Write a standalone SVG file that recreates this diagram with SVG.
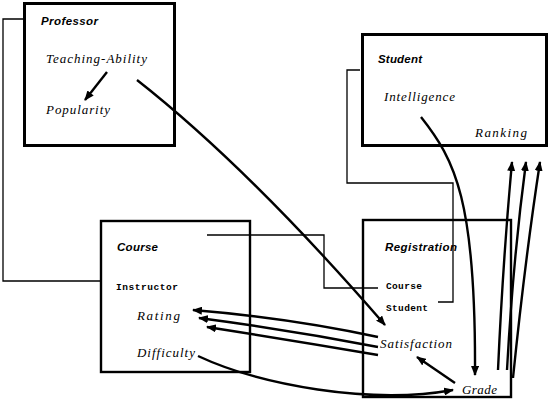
<svg xmlns="http://www.w3.org/2000/svg" width="550" height="408" viewBox="0 0 550 408">
<defs>
<style>
.box{fill:none;stroke:#000;stroke-width:3}
.box2{fill:none;stroke:#000;stroke-width:2.4}
.title{font-family:"Liberation Sans",Arial,sans-serif;font-weight:bold;font-style:italic;font-size:11.5px;fill:#000}
.attr{font-family:"Liberation Serif","Times New Roman",serif;font-style:italic;font-size:13px;fill:#000}
.mono{font-family:"Liberation Mono","Courier New",monospace;font-weight:bold;font-size:9.5px;fill:#000}
.link{fill:none;stroke:#000;stroke-width:1.3}
.arr{fill:none;stroke:#000;stroke-width:2.4;marker-end:url(#ah)}
</style>
<marker id="ah" markerUnits="userSpaceOnUse" markerWidth="10" markerHeight="8" refX="9" refY="4" orient="auto">
<path d="M0,0 L10,4 L0,8 z" fill="#000"/>
</marker>
</defs>
<rect width="550" height="408" fill="#fff"/>
<g id="professor">
<rect class="box" x="24.5" y="3.5" width="150" height="142"/>
<text class="title" x="41" y="25" textLength="57">Professor</text>
<text class="attr" x="46" y="63" textLength="101">Teaching-Ability</text>
<text class="attr" x="46" y="114" textLength="64">Popularity</text>
</g>
<g id="student">
<rect class="box" x="362.5" y="34.5" width="184" height="111"/>
<text class="title" x="378" y="63" textLength="44">Student</text>
<text class="attr" x="384" y="101" textLength="71">Intelligence</text>
<text class="attr" x="475" y="137" textLength="52">Ranking</text>
</g>
<g id="course">
<rect class="box2" x="101" y="221" width="149" height="151"/>
<text class="title" x="117" y="251" textLength="41">Course</text>
<text class="mono" x="116" y="290" textLength="62">Instructor</text>
<text class="attr" x="137" y="320" textLength="43">Rating</text>
<text class="attr" x="137" y="357" textLength="58">Difficulty</text>
</g>
<g id="registration">
<rect class="box2" x="363" y="220" width="148" height="177"/>
<text class="title" x="385" y="251" textLength="72">Registration</text>
<text class="mono" x="386" y="289" textLength="36">Course</text>
<text class="mono" x="386" y="311" textLength="42">Student</text>
<text class="attr" x="380" y="348" textLength="72">Satisfaction</text>
<text class="attr" x="462" y="394" textLength="35">Grade</text>
</g>
<g id="connectors">
<polyline class="link" points="24,19 3,19 3,281 100,281"/>
<polyline class="link" points="207,235 324,235 324,288 378,288"/>
<polyline class="link" points="360,70 347,70 347,183 453,183 453,302 438,302"/>
<path class="arr" d="M107,72 L85,100"/>
<path class="arr" d="M137,80 Q249,168 385,325"/>
<path class="arr" d="M421,117 C455,160 476,200 475,375"/>
<path class="arr" d="M378,337 Q290,318 193,310"/>
<path class="arr" d="M378,347 Q290,330 199,318"/>
<path class="arr" d="M378,355 Q290,340 207,327"/>
<path class="arr" d="M198,356 C260,385 370,405 453,390"/>
<path class="arr" d="M455,383 L417,357"/>
<path class="arr" d="M498,370 Q503,260 512,162"/>
<path class="arr" d="M507,370 Q513,260 526,162"/>
<path class="arr" d="M513,378 Q525,260 540,162"/>
</g>
</svg>
